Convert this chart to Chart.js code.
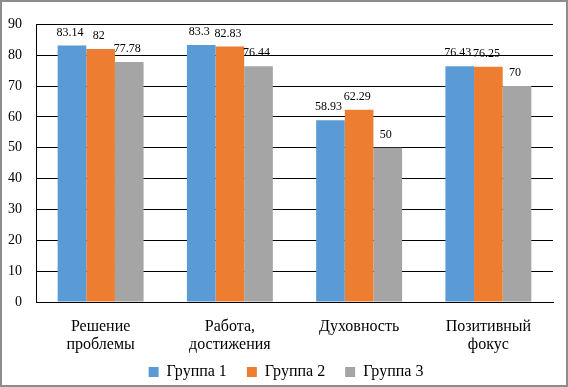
<!DOCTYPE html>
<html>
<head>
<meta charset="utf-8">
<script src="https://cdn.jsdelivr.net/npm/chart.js@4"></script>
<style>
  html, body { margin: 0; padding: 0; background: #fff; }
  #wrap { width: 568px; height: 387px; box-sizing: border-box; border: 2px solid #8c8c8c; background: #fff; }
  canvas { display: block; }
</style>
</head>
<body>
<div id="wrap"><canvas id="c" width="564" height="383"></canvas></div>
<script>
const categories = [['Решение', 'проблемы'], ['Работа,', 'достижения'], ['Духовность'], ['Позитивный', 'фокус']];
const seriesNames = ['Группа 1', 'Группа 2', 'Группа 3'];
const group1 = [83.14, 83.3, 58.93, 76.43];
const group2 = [82, 82.83, 62.29, 76.25];
const group3 = [77.78, 76.44, 50, 70];
const yMin = 0, yMax = 90, yStep = 10;

const FONT = 'Liberation Serif';

const dataLabels = {
  id: 'dataLabels',
  afterDatasetsDraw(chart) {
    const ctx = chart.ctx;
    ctx.save();
    ctx.font = '12px ' + FONT;
    ctx.fillStyle = '#000';
    ctx.textAlign = 'center';
    ctx.textBaseline = 'alphabetic';
    chart.data.datasets.forEach((ds, i) => {
      const meta = chart.getDatasetMeta(i);
      meta.data.forEach((el, j) => {
        ctx.fillText(String(ds.data[j]), el.x - 2, el.y - 10);
      });
    });
    ctx.restore();
  }
};

new Chart(document.getElementById('c'), {
  type: 'bar',
  data: {
    labels: categories,
    datasets: [
      { label: seriesNames[0], data: group1, backgroundColor: '#5B9BD5' },
      { label: seriesNames[1], data: group2, backgroundColor: '#ED7D31' },
      { label: seriesNames[2], data: group3, backgroundColor: '#A5A5A5' }
    ]
  },
  options: {
    responsive: false,
    animation: false,
    devicePixelRatio: 1,
    font: { family: FONT },
    layout: { padding: { left: 17, right: 13, top: 14, bottom: -5 } },
    datasets: { bar: { categoryPercentage: 0.665, barPercentage: 1 } },
    plugins: {
      legend: {
        position: 'bottom',
        labels: { font: { family: FONT, size: 16 }, color: '#000', boxWidth: 10, boxHeight: 10, padding: 20 }
      },
      tooltip: { enabled: false }
    },
    scales: {
      y: {
        min: yMin, max: yMax,
        ticks: { stepSize: yStep, font: { family: FONT, size: 14 }, color: '#000', padding: 14 },
        grid: { color: '#000', drawTicks: false, lineWidth: 1 },
        border: { color: '#000', display: true },
        afterFit(scale) { scale.width = 17; },
        afterUpdate(scale) { scale._computeLabelArea = () => undefined; }
      },
      x: {
        ticks: { font: { family: FONT, size: 16, lineHeight: 1.125 }, color: '#000', padding: 16, maxRotation: 0, autoSkip: false },
        grid: { display: false, drawTicks: false },
        border: { color: '#000', display: true },
        afterFit(scale) { scale.height = 42; },
        afterUpdate(scale) { scale._computeLabelArea = () => undefined; }
      }
    }
  },
  plugins: [dataLabels]
});
</script>
</body>
</html>
